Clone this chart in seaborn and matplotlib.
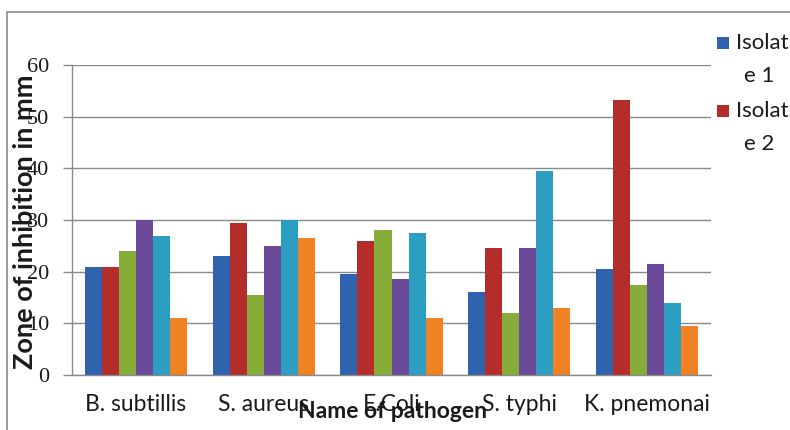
import numpy as np
import pandas as pd
import matplotlib
matplotlib.use("Agg")
import matplotlib.pyplot as plt
from matplotlib.patches import Rectangle
import seaborn as sns

pathogens = ["B. subtillis", "S. aureus", "E.Coli", "S. typhi", "K. pnemonai"]
isolates = ["Isolate 1", "Isolate 2", "Isolate 3", "Isolate 4", "Isolate 5", "Isolate 6"]

isolate_1 = [21, 23, 19.6, 16, 20.5]
isolate_2 = [21, 29.5, 26, 24.5, 53.3]
isolate_3 = [24, 15.5, 28, 12, 17.5]
isolate_4 = [30, 25, 18.5, 24.5, 21.5]
isolate_5 = [27, 30, 27.5, 39.5, 14]
isolate_6 = [11, 26.5, 11, 13, 9.5]

y_ticks = [0, 10, 20, 30, 40, 50, 60]

colors = ["#2f63ad", "#b52d2b", "#86ad38", "#6b4a99", "#2b9ec2", "#ef8323"]

series = [isolate_1, isolate_2, isolate_3, isolate_4, isolate_5, isolate_6]
df = pd.DataFrame({
    "pathogen": np.tile(pathogens, len(isolates)),
    "isolate": np.repeat(isolates, len(pathogens)),
    "zone": np.concatenate(series),
})

sns.set_theme(style="white")
plt.rcParams["font.family"] = ["Lato", "DejaVu Sans"]

fig = plt.figure(figsize=(7.9, 4.3), dpi=100)
ax = fig.add_axes([72 / 790, 55 / 430, 639 / 790, 310 / 430])

sns.barplot(data=df, x="pathogen", y="zone", hue="isolate",
            order=pathogens, hue_order=isolates, palette=colors,
            width=0.8, saturation=1, linewidth=0, legend=False, ax=ax)

ax.set_xlim(-0.5, len(pathogens) - 0.5)
ax.set_ylim(0, 60)
ax.set_yticks(y_ticks)
ax.set_axisbelow(True)
ax.yaxis.grid(True, color="#8a8a8a", linewidth=1.0)
ax.xaxis.grid(False)

for side in ["top", "right"]:
    ax.spines[side].set_visible(False)
for side in ["left", "bottom"]:
    ax.spines[side].set_color("#8a8a8a")
    ax.spines[side].set_linewidth(1.0)

ax.tick_params(axis="y", which="both", left=True, length=6.5, width=1.0,
               color="#8a8a8a", pad=10)
ax.tick_params(axis="x", bottom=False, pad=8)
for lab in ax.get_yticklabels():
    lab.set_fontfamily(["Liberation Serif", "DejaVu Serif"])
    lab.set_fontsize(16)
    lab.set_color("#1a1a1a")
for lab in ax.get_xticklabels():
    lab.set_fontsize(16.5)
    lab.set_color("#1a1a1a")

ax.set_xlabel("Name of pathogen", fontsize=16.5, fontweight="bold", color="#1a1a1a")
ax.set_ylabel("Zone of inhibition in mm", fontsize=19.5, fontweight="bold", color="#1a1a1a")
ax.xaxis.set_label_coords(320 / 639, -36 / 310)
ax.xaxis.label.set_va("center")
ax.yaxis.set_label_coords(-47 / 639, 153 / 310)
ax.yaxis.label.set_va("center")

# chart frame
fig.patches.append(Rectangle((7 / 790, -0.05), 1.2, (430 - 12) / 430 + 0.05,
                             transform=fig.transFigure, fill=False,
                             edgecolor="#8a8a8a", linewidth=1.2))

# legend entries (wrapped labels, first two visible)
legend_rows = [(43, "Isolat", "e 1"), (111, "Isolat", "e 2")]
for i, (yc, top, bottom) in enumerate(legend_rows):
    fig.patches.append(Rectangle((717 / 790, (430 - yc - 6) / 430), 12 / 790, 12 / 430,
                                 transform=fig.transFigure, facecolor=colors[i],
                                 edgecolor="none"))
    fig.text(736 / 790, (430 - yc) / 430, top, fontsize=16, va="center",
             ha="left", color="#1a1a1a")
    fig.text(744 / 790, (430 - yc - 33) / 430, bottom, fontsize=16, va="center",
             ha="left", color="#1a1a1a")

fig.savefig("out.png", dpi=100)
